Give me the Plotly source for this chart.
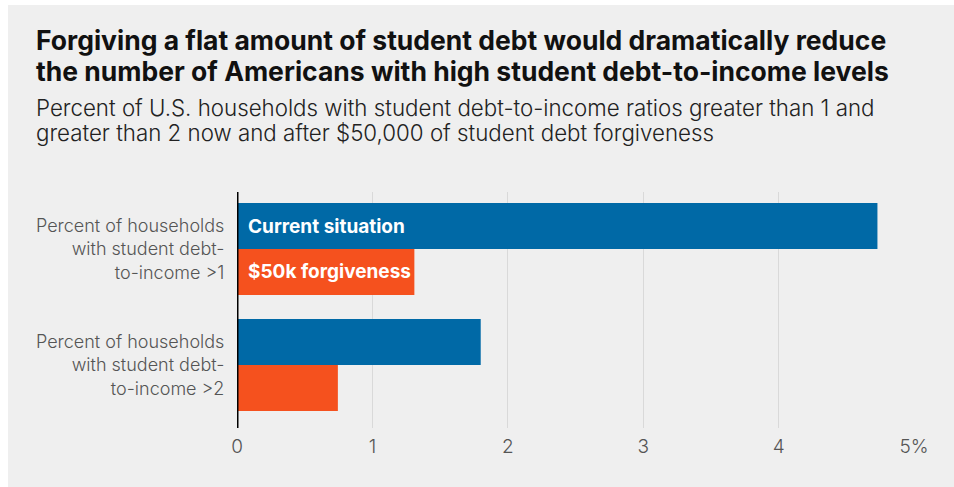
import plotly.graph_objects as go

categories = ["Percent of households<br>with student debt-<br>to-income >1",
              "Percent of households<br>with student debt-<br>to-income >2"]
current = [4.73, 1.80]
forgiveness = [1.31, 0.745]
series_names = ["Current situation", "$50k forgiveness"]
tick_vals = [0, 1, 2, 3, 4, 5]
tick_text = ["0", "1", "2", "3", "4", "5%"]

title_lines = ["Forgiving a flat amount of student debt would dramatically reduce",
               "the number of Americans with high student debt-to-income levels"]
subtitle_lines = ["Percent of U.S. households with student debt-to-income ratios greater than 1 and",
                  "greater than 2 now and after $50,000 of student debt forgiveness"]

BLUE = "#0069a6"
ORANGE = "#f5511e"
BG = "#efefef"
W, H = 954, 487
L, R, T, B = 237, 40, 192, 59
PW, PH = W - L - R, H - T - B

def px_x(px):
    return (px - L) / PW

def px_y(py):
    return (H - B - py) / PH

FONT = "Inter, Roboto, sans-serif"
TSIZE = 26.5
SSIZE = 22.3

fig = go.Figure()
fig.add_trace(go.Bar(y=[0, 1], x=current, orientation="h", name=series_names[0],
                     marker=dict(color=BLUE, line=dict(width=0)), hoverinfo="x"))
fig.add_trace(go.Bar(y=[0, 1], x=forgiveness, orientation="h", name=series_names[1],
                     marker=dict(color=ORANGE, line=dict(width=0)), hoverinfo="x"))

annotations = []
for line, base in zip(title_lines, [49, 80]):
    annotations.append(dict(text="<b>" + line + "</b>", x=px_x(34), y=px_y(base - 0.35 * TSIZE),
                            xref="paper", yref="paper", xanchor="left", yanchor="middle",
                            showarrow=False, font=dict(family=FONT, size=TSIZE, color="#111111")))
for line, base in zip(subtitle_lines, [115, 140]):
    annotations.append(dict(text=line, x=px_x(34), y=px_y(base - 0.35 * SSIZE),
                            xref="paper", yref="paper", xanchor="left", yanchor="middle",
                            showarrow=False, font=dict(family=FONT, size=SSIZE, color="#222222", weight=300)))
bar_off = 0.198
for txt, off in zip(series_names, [-bar_off, bar_off]):
    annotations.append(dict(text="<b>" + txt + "</b>", x=0, y=0 + off, xref="x", yref="y",
                            xanchor="left", yanchor="middle", xshift=9, showarrow=False,
                            font=dict(family=FONT, size=19, color="white")))

fig.update_layout(
    width=W, height=H,
    margin=dict(l=L, r=R, t=T, b=B, pad=0),
    paper_bgcolor="white", plot_bgcolor=BG,
    barmode="group", bargap=0.207, bargroupgap=0,
    showlegend=False,
    font=dict(family=FONT, color="#555555"),
    annotations=annotations,
    shapes=[dict(type="rect", xref="paper", yref="paper",
                 x0=px_x(8), x1=px_x(960), y0=px_y(487), y1=px_y(5),
                 fillcolor=BG, line=dict(width=0), layer="below")],
    xaxis=dict(range=[0, 5], tickvals=tick_vals, ticktext=tick_text,
               showgrid=True, gridcolor="#d9d9d9", gridwidth=1,
               zeroline=False, showline=False,
               ticks="outside", ticklen=1, tickcolor="rgba(0,0,0,0)",
               tickfont=dict(family=FONT, size=19, color="#555555", weight=300),
               fixedrange=True),
    yaxis=dict(range=[1.543, -0.491], tickvals=[0, 1], ticktext=categories,
               showgrid=False, zeroline=False, showline=False,
               ticks="outside", ticklen=8, tickcolor="rgba(0,0,0,0)",
               tickfont=dict(family=FONT, size=18, color="#555555", weight=300),
               fixedrange=True),
)
fig.add_shape(type="line", xref="x", yref="paper", x0=0, x1=0, y0=0, y1=1,
              line=dict(color="black", width=3), layer="above")

fig.write_html("out.html")
